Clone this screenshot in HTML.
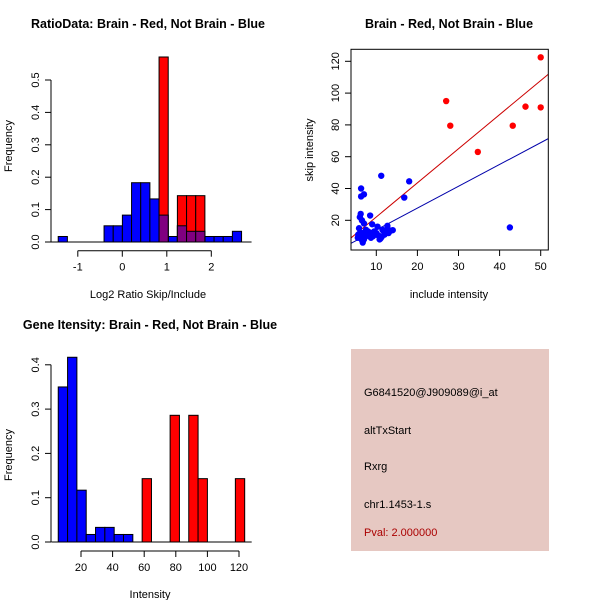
<!DOCTYPE html>
<html><head><meta charset="utf-8"><style>
body{margin:0;background:#fff;}
svg{display:block;font-family:"Liberation Sans",sans-serif;}
</style></head><body>
<svg id="c" width="600" height="600" xmlns="http://www.w3.org/2000/svg"></svg>
<script>
// Panel 1: ratio histogram
const ratioBlue=[0.017,0,0,0,0,0.05,0.05,0.083,0.183,0.183,0.133,0.083,0.017,0.05,0.033,0.033,0.017,0.017,0.017,0.033];
const ratioRed=[0,0,0,0,0,0,0,0,0,0,0,0.571,0,0.143,0.143,0.143,0,0,0,0];
const ratioStart=-1.44, ratioWidth=0.206;
const ratioXTicks=[-1,0,1,2];
const ratioYTicks=[0,0.1,0.2,0.3,0.4,0.5];
// Panel 2: scatter
const redX=[27,28,34.7,43.2,46.3,50,50];
const redY=[95,79.5,63,79.5,91.5,122.5,91];
const blueX=[6.3,6.3,7,11.2,18,16.8,42.5,8.5,6,6.2,6.5,7,9,10.3,12.7,11.5,13.5,14,5.5,6,6.5,6.7,7,7.5,8,8.3,8.7,9,9.5,10,10.5,11,11.3,12,12.5,7.5,8,6,5.8,7.2,9.2,10.8,13,6.8,7.8,8.8,9.8,11.8,5.6,6.4];
const blueY=[40,35,36.3,48,44.5,34.3,15.5,23,22,24,20,18,17.5,16,16.5,14,13.5,13.8,9,10,12,6,8,10,12,11,9,11,13,12,10.5,8.5,9.5,11,14,14,13,12,15,11,10,8,12,9,13,12,11,13,11,8];
const redFit=[0.66,2.145]; // intercept, slope
const blueFit=[0.23,1.372];
const scXTicks=[10,20,30,40,50];
const scYTicks=[20,40,60,80,100,120];
// Panel 3: intensity histogram
const intBlue=[0.35,0.417,0.117,0.017,0.033,0.033,0.017,0.017,0,0,0,0,0,0,0,0,0,0,0,0];
const intRed=[0,0,0,0,0,0,0,0,0,0.143,0,0,0.286,0,0.286,0.143,0,0,0,0.143];
const intStart=5.6, intWidth=5.9;
const intXTicks=[20,40,60,80,100,120];
const intYTicks=[0,0.1,0.2,0.3,0.4];

const NS="http://www.w3.org/2000/svg";
const svg=document.getElementById('c');
function mk(tag,attrs,parent){const e=document.createElementNS(NS,tag);for(const k in attrs)e.setAttribute(k,attrs[k]);(parent||svg).appendChild(e);return e;}
function txt(s,x,y,opt,parent){const t=mk('text',Object.assign({x:x,y:y,'font-size':11,'text-anchor':'middle',fill:'#000'},opt||{}),parent);t.textContent=s;return t;}

// ---------- Panel 1 ----------
const g1=mk('g',{});


const x1=v=>122.3+(v-0)*44.5, y1=v=>242-v*324;
function bars(g,vals,start,w,xf,yf,fill,name){
  vals.forEach((v,i)=>{ if(v<=0)return;
    const a=xf(start+i*w), b=xf(start+(i+1)*w);
    const r=mk('rect',{x:a,y:yf(v),width:b-a,height:yf(0)-yf(v),fill:fill,stroke:'#000','stroke-width':1},g);
    
    
  });
}
bars(g1,ratioBlue,ratioStart,ratioWidth,x1,y1,'#0000ff','ratio-blue-bar');
bars(g1,ratioRed,ratioStart,ratioWidth,x1,y1,'#ff0000','ratio-red-bar');
ratioBlue.forEach((v,i)=>{const r2=ratioRed[i];if(v>0&&r2>0){const a=x1(ratioStart+i*ratioWidth),b=x1(ratioStart+(i+1)*ratioWidth);const o=mk('rect',{x:a,y:y1(Math.min(v,r2)),width:b-a,height:y1(0)-y1(Math.min(v,r2)),fill:'#800080',stroke:'#000','stroke-width':1},g1);}});
mk('line',{x1:x1(ratioStart)-10,x2:x1(ratioStart+20*ratioWidth)+10,y1:y1(0),y2:y1(0),stroke:'#000'},g1);
function xaxis(g,ticks,xf,y,name){const ax=mk('g',{},g);
  mk('line',{x1:xf(ticks[0]),x2:xf(ticks[ticks.length-1]),y1:y,y2:y,stroke:'#000'},ax);
  ticks.forEach(t=>{mk('line',{x1:xf(t),x2:xf(t),y1:y,y2:y+6,stroke:'#000'},ax);txt(String(t),xf(t),y+20,{},ax);});}
xaxis(g1,ratioXTicks,x1,250.7,'ratio-x-axis');
function yaxisR(g,ticks,yf,x,name,dec){const ax=mk('g',{},g);
  mk('line',{x1:x,x2:x,y1:yf(ticks[0]),y2:yf(ticks[ticks.length-1]),stroke:'#000'},ax);
  ticks.forEach(t=>{mk('line',{x1:x,x2:x-6,y1:yf(t),y2:yf(t),stroke:'#000'},ax);const tx=x-12;txt(t.toFixed(dec),tx,yf(t),{transform:`rotate(-90 ${tx} ${yf(t)})`},ax);});}
yaxisR(g1,ratioYTicks,y1,51,'ratio-y-axis',1);
txt('RatioData: Brain - Red, Not Brain - Blue',148,28,{'font-size':12.5,'font-weight':'bold'},g1);
txt('Log2 Ratio Skip/Include',148,298,{},g1);
txt('Frequency',12,146,{transform:'rotate(-90 12 146)'},g1);

// ---------- Panel 2 ----------
const g2=mk('g',{});


const x2=v=>376.3+(v-10)*4.11, y2=v=>220.3-(v-20)*1.59;
const xmin=(351-376.3)/4.11+10, xmax=(548.3-376.3)/4.11+10;
const clip=mk('clipPath',{id:'cp'},g2);mk('rect',{x:351,y:49.3,width:197.3,height:200.7},clip);
const fits=mk('g',{'clip-path':'url(#cp)'},g2);
[[redFit,'#cc0000','red-fit-line'],[blueFit,'#0000aa','blue-fit-line']].forEach(([f,c,n])=>{const l=mk('line',{x1:x2(xmin),y1:y2(f[0]+f[1]*xmin),x2:x2(xmax),y2:y2(f[0]+f[1]*xmax),stroke:c,'stroke-width':1},fits);});
blueX.forEach((v,i)=>{const p=mk('circle',{cx:x2(v),cy:y2(blueY[i]),r:3.2,fill:'#0000ff'},g2);});
redX.forEach((v,i)=>{const p=mk('circle',{cx:x2(v),cy:y2(redY[i]),r:3.2,fill:'#ff0000'},g2);});
mk('rect',{x:351,y:49.3,width:197.3,height:200.7,fill:'none',stroke:'#000'},g2);
const sx=mk('g',{},g2);
scXTicks.forEach(t=>{mk('line',{x1:x2(t),x2:x2(t),y1:250,y2:256,stroke:'#000'},sx);txt(String(t),x2(t),270,{},sx);});
const sy=mk('g',{},g2);
scYTicks.forEach(t=>{mk('line',{x1:351,x2:345,y1:y2(t),y2:y2(t),stroke:'#000'},sy);txt(String(t),339,y2(t),{transform:`rotate(-90 339 ${y2(t)})`},sy);});
txt('Brain - Red, Not Brain - Blue',449,28,{'font-size':12.5,'font-weight':'bold'},g2);
txt('include intensity',449,298,{},g2);
txt('skip intensity',313,150,{transform:'rotate(-90 313 150)'},g2);

// ---------- Panel 3 ----------
const g3=mk('g',{});


const x3=v=>81+(v-20)*1.58, y3=v=>542-v*443;
bars(g3,intBlue,intStart,intWidth,x3,y3,'#0000ff','intensity-blue-bar');
bars(g3,intRed,intStart,intWidth,x3,y3,'#ff0000','intensity-red-bar');
mk('line',{x1:x3(intStart)-7,x2:x3(intStart+20*intWidth)+7,y1:y3(0),y2:y3(0),stroke:'#000'},g3);
xaxis(g3,intXTicks,x3,551,'intensity-x-axis');
yaxisR(g3,intYTicks,y3,51,'intensity-y-axis',1);
txt('Gene Itensity: Brain - Red, Not Brain - Blue',150,329,{'font-size':12.5,'font-weight':'bold'},g3);
txt('Intensity',150,598,{},g3);
txt('Frequency',12,455,{transform:'rotate(-90 12 455)'},g3);

// ---------- Panel 4 ----------
const g4=mk('g',{});


mk('rect',{x:351,y:349,width:198,height:202,fill:'#e6c8c2'},g4);
const infos=[['G6841520@J909089@i_at',396,'probe-id'],['altTxStart',434,'event-type'],['Rxrg',470,'gene-name'],['chr1.1453-1.s',508,'location']];
infos.forEach(([s,y,n])=>{const t=txt(s,364,y,{'text-anchor':'start'},g4);});
const pv=txt('Pval: 2.000000',364,536,{'text-anchor':'start',fill:'#aa0000'},g4);


</script>
</body></html>
